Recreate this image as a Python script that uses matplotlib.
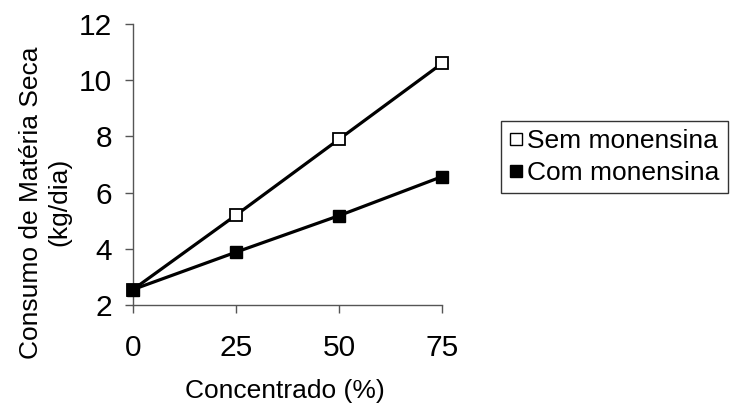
import matplotlib.pyplot as plt

plt.rcParams['font.family'] = ['Liberation Sans', 'DejaVu Sans']

concentrado = [0, 25, 50, 75]
sem_monensina = [2.55, 5.2, 7.9, 10.6]
com_monensina = [2.55, 3.88, 5.18, 6.57]

fig = plt.figure(figsize=(7.31, 4.05), dpi=100)
ax = fig.add_axes([0.182, 0.247, 0.423, 0.694])

ax.plot(concentrado, sem_monensina, '-', color='black', lw=2.3, zorder=2)
ax.plot(concentrado, com_monensina, '-', color='black', lw=2.3, zorder=2)
ax.plot(concentrado, sem_monensina, 's', mfc='white', mec='black', mew=1.3, ms=9,
        ls='none', zorder=3)
ax.plot(concentrado, com_monensina, 's', mfc='black', mec='black', ms=9,
        ls='none', zorder=3)

# legend handles: markers only
h1, = ax.plot([], [], 's', mfc='white', mec='black', mew=1, ms=9, label='Sem monensina')
h2, = ax.plot([], [], 's', mfc='black', mec='black', ms=9, label='Com monensina')
leg = fig.legend(handles=[h1, h2], loc='upper left', bbox_to_anchor=(501 / 731, 1 - 121 / 405),
                 fontsize=19, frameon=True, fancybox=False, edgecolor='black',
                 handlelength=0.5, handletextpad=0.2, borderpad=0.3, labelspacing=0.3,
                 borderaxespad=0)
leg.get_frame().set_linewidth(1.0)

ax.set_xlim(0, 75)
ax.set_ylim(2, 12)
ax.set_xticks(concentrado)
ax.set_yticks([2, 4, 6, 8, 10, 12])
ax.tick_params(axis='both', labelsize=21.5, direction='out', length=6, width=1, color='#555555')
ax.tick_params(axis='x', pad=15)
ax.tick_params(axis='y', pad=9)
for s in ['top', 'right']:
    ax.spines[s].set_visible(False)
for s in ['left', 'bottom']:
    ax.spines[s].set_color('#555555')
    ax.spines[s].set_linewidth(1)
for line in ax.lines:
    line.set_clip_on(False)

ax.set_xlabel('Concentrado (%)', fontsize=19)
ax.xaxis.set_label_coords(0.49, -0.262)
ax.set_ylabel('Consumo de Matéria Seca\n(kg/dia)', fontsize=19)
ax.yaxis.set_label_coords(-0.2, 0.365)

fig.savefig('out.png', dpi=100)
